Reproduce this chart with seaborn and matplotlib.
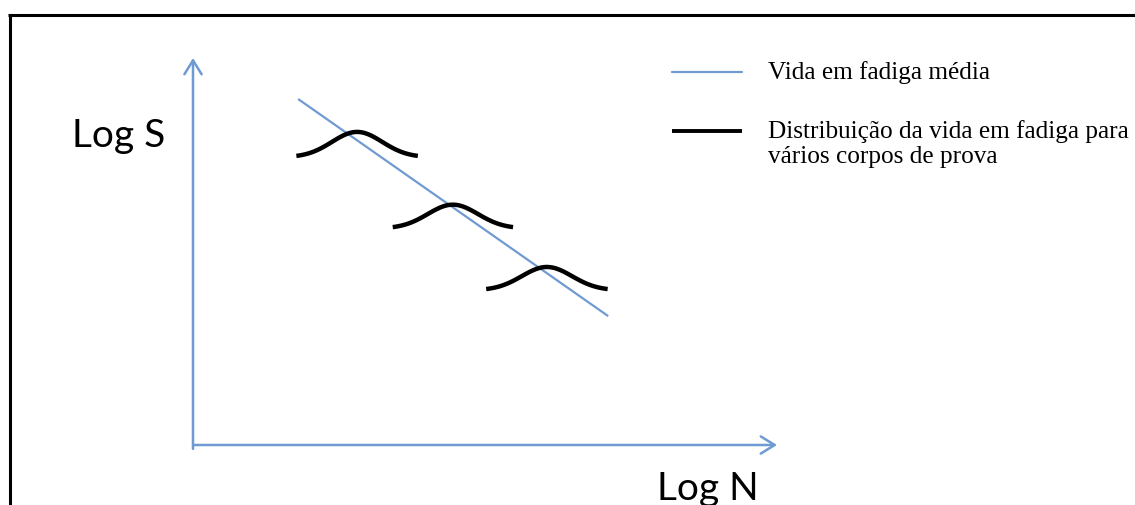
import numpy as np
import pandas as pd
import matplotlib
matplotlib.use("Agg")
import matplotlib.pyplot as plt
import seaborn as sns
from matplotlib.lines import Line2D
from matplotlib.transforms import Affine2D

# Mean fatigue-life line (S-N curve), axis units 0-100 on both axes
mean_log_n = [18.0, 71.1]
mean_log_s = [89.4, 33.3]

# Scatter of fatigue life around the mean line at three stress levels
dist_center_log_n = [28.1, 44.5, 60.6]
dist_base_log_s = [74.7, 56.3, 40.3]
dist_peak_height = [6.2, 5.8, 5.7]
dist_half_span = [10.4, 10.3, 10.4]
dist_sigma = [4.3, 4.3, 4.3]

legend_labels = ["Vida em fadiga média",
                 "Distribuição da vida em fadiga para\nvários corpos de prova"]
y_label = "Log S"
x_label = "Log N"

W, H, DPI = 1135, 506, 100
BLUE = "#6F9AD2"

sns.set_style("white")
fig = plt.figure(figsize=(W / DPI, H / DPI), dpi=DPI)
fig.patch.set_facecolor("white")

# pixel placement helper (origin at top-left)
px = Affine2D().scale(1 / W, -1 / H).translate(0, 1) + fig.transFigure

# axes box: origin at (193, 446) px, x-arrow tip at 777 px, y-arrow tip at 59 px
left, right, bottom, top = 193, 777, 446, 59
ax = fig.add_axes([left / W, 1 - bottom / H, (right - left) / W, (bottom - top) / H])
ax.set_xlim(0, 100)
ax.set_ylim(0, 100)
ax.axis("off")

# axis arrows
arrow = dict(arrowstyle="->,head_length=1.0,head_width=0.62", color=BLUE, lw=1.8,
             shrinkA=0, shrinkB=0, mutation_scale=10)
ax.annotate("", xy=(100, 0), xytext=(0, 0), arrowprops=arrow, annotation_clip=False)
ax.annotate("", xy=(0, 100), xytext=(0, -1.0), arrowprops=arrow, annotation_clip=False)

# mean fatigue life line
sns.lineplot(x=mean_log_n, y=mean_log_s, ax=ax, color=BLUE, lw=1.6,
             estimator=None, sort=False, legend=False)

# bell-shaped life distributions at each stress level
rows = []
for i, (c, b, h, hs, s) in enumerate(zip(dist_center_log_n, dist_base_log_s,
                                          dist_peak_height, dist_half_span, dist_sigma)):
    xs = np.linspace(c - hs, c + hs, 120)
    g = np.exp(-0.5 * ((xs - c) / s) ** 2)
    g0 = np.exp(-0.5 * (hs / s) ** 2)
    ys = b + h * (g - g0) / (1 - g0)
    rows.append(pd.DataFrame({"logN": xs, "logS": ys, "level": i}))
dist = pd.concat(rows, ignore_index=True)
sns.lineplot(data=dist, x="logN", y="logS", units="level", estimator=None,
             sort=False, color="black", lw=3.2, ax=ax, legend=False)
for ln in ax.lines:
    ln.set_solid_capstyle("butt")
    ln.set_clip_on(False)

# axis titles
fig.text(72, 147, y_label, transform=px, fontsize=28, family="Lato",
         va="baseline", ha="left", color="black")
fig.text(657, 500, x_label, transform=px, fontsize=28, family="Lato",
         va="baseline", ha="left", color="black")

# legend
fig.add_artist(Line2D([672, 742], [73, 73], transform=px, color=BLUE, lw=1.6))
fig.add_artist(Line2D([672, 742], [132, 132], transform=px, color="black", lw=2.8,
                      solid_capstyle="butt"))
fig.text(768, 79, legend_labels[0], transform=px, fontsize=18.2, family="Liberation Serif",
         va="baseline", ha="left", color="black")
for k, line in enumerate(legend_labels[1].split("\n")):
    fig.text(768, 138 + 25.5 * k, line, transform=px, fontsize=18.2,
             family="Liberation Serif", va="baseline", ha="left", color="black")

# frame
fig.add_artist(Line2D([8, W], [16, 16], transform=px, color="black", lw=2.2,
                      solid_capstyle="butt"))
fig.add_artist(Line2D([9.5, 9.5], [14.5, H], transform=px, color="black", lw=2.2,
                      solid_capstyle="butt"))

fig.savefig("out.png", dpi=DPI, facecolor="white")
